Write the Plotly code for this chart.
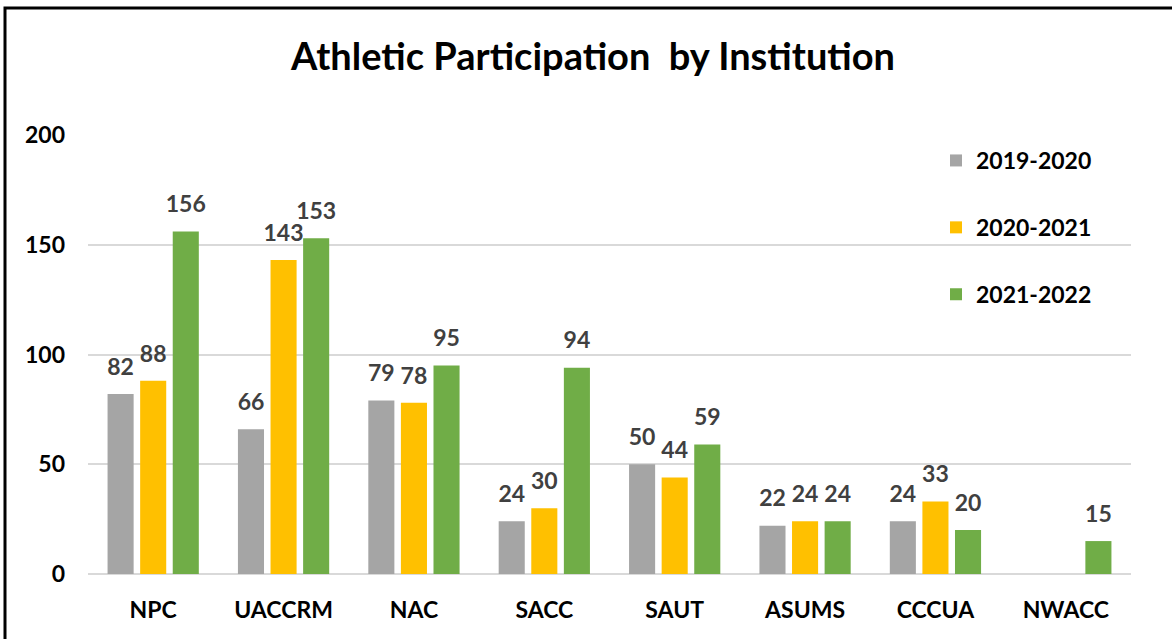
import plotly.graph_objects as go

categories = ["NPC", "UACCRM", "NAC", "SACC", "SAUT", "ASUMS", "CCCUA", "NWACC"]
series_names = ["2019-2020", "2020-2021", "2021-2022"]
values_2019_2020 = [82, 66, 79, 24, 50, 22, 24, None]
values_2020_2021 = [88, 143, 78, 30, 44, 24, 33, None]
values_2021_2022 = [156, 153, 95, 94, 59, 24, 20, 15]
colors = ["#A5A5A5", "#FFC000", "#70AD47"]
y_ticks = [0, 50, 100, 150, 200]

FONT = "Lato"
fig = go.Figure()
all_vals = [values_2019_2020, values_2020_2021, values_2021_2022]
for i, (name, vals, col) in enumerate(zip(series_names, all_vals, colors)):
    fig.add_trace(go.Bar(
        x=categories, y=vals, name=name, marker=dict(color=col, line=dict(width=0)),
        offsetgroup=str(i), legendgroup=name,
    ))
for i, (name, vals) in enumerate(zip(series_names, all_vals)):
    fig.add_trace(go.Scatter(
        x=categories, y=vals, mode="markers+text", offsetgroup=str(i),
        text=[("" if v is None else str(v)) for v in vals],
        textposition="top center", cliponaxis=False, showlegend=False, hoverinfo="skip",
        marker=dict(size=20, color="rgba(0,0,0,0)"),
        textfont=dict(family=FONT, size=23, color="#404040", weight="bold"),
    ))

W, H = 1172, 639
L, R, T, B = 88, 41, 135, 65
pw, ph = W - L - R, H - T - B

fig.update_layout(
    width=W, height=H,
    margin=dict(l=L, r=R, t=T, b=B),
    paper_bgcolor="white", plot_bgcolor="white",
    barmode="group", bargap=0.25, bargroupgap=0.2,
    scattermode="group", scattergap=0.25,
    title=dict(text="<b>Athletic Participation  by Institution</b>", x=593 / W, xanchor="center",
               y=1 - 57 / H, yanchor="middle",
               font=dict(family=FONT, size=38, color="#000000")),
    legend=dict(x=(936 - L) / pw, y=1 - (139 - T) / ph, xanchor="left", yanchor="top",
                font=dict(family=FONT, size=23, color="#000000", weight="bold"),
                traceorder="grouped", tracegroupgap=34, itemwidth=30,
                bgcolor="rgba(0,0,0,0)"),
    showlegend=True,
)
fig.update_xaxes(showgrid=False, showline=False, ticks="", ticklabelstandoff=20,
                 tickfont=dict(family=FONT, size=23, color="#000000", weight="bold"))
fig.update_yaxes(range=[0, 200], tickvals=y_ticks, showgrid=True, gridcolor="#D9D9D9", gridwidth=2,
                 zeroline=True, zerolinecolor="#D9D9D9", zerolinewidth=2, ticks="",
                 ticklabelstandoff=22, showline=False,
                 tickfont=dict(family=FONT, size=23, color="#000000", weight="bold"))

# outer black frame (chart border)
fig.add_shape(type="rect", xref="paper", yref="paper",
              x0=(5 - L) / pw, x1=(W + 20 - L) / pw,
              y0=-(B + 20) / ph, y1=1 + (T - 8) / ph,
              line=dict(color="#000000", width=3), fillcolor="rgba(0,0,0,0)", layer="above")

fig.write_html("out.html", config={"displayModeBar": False},
               post_script="document.body.style.margin='0';")
